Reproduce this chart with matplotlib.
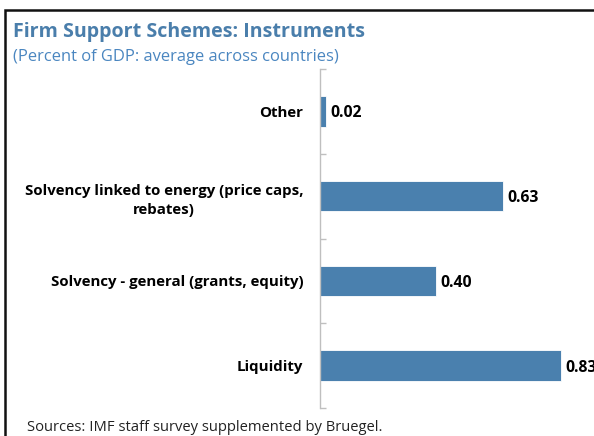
import matplotlib.pyplot as plt
from matplotlib.patches import Rectangle

plt.rcParams['font.family'] = ['Open Sans', 'DejaVu Sans']

# datos del grafico (de abajo hacia arriba)
categorias = ['Liquidity', 'Solvency - general (grants, equity)',
              'Solvency linked to energy (price caps,\nrebates)', 'Other']
valores = [0.83, 0.40, 0.63, 0.02]

azul = '#4A80AE'
gris = '#BFBFBF'

fig = plt.figure(figsize=(5.94, 4.36), dpi=100)
ax = fig.add_axes([320/594, 1 - 408/436, 261/594, (408 - 69)/436])

pos = list(range(len(categorias)))
ax.barh(pos, valores, height=0.36, color=azul, edgecolor='white', linewidth=0.6)

ax.set_xlim(0, 0.9)
ax.set_ylim(-0.5, len(categorias) - 0.5)

# etiquetas de valores al final de cada barra (la ultima queda cortada como en el original)
for y, v in zip(pos, valores):
    ax.annotate(f"{v:.2f}", (v, y), xytext=(3.5, -1.5), textcoords='offset points',
                ha='left', va='center', fontsize=11.3, fontweight='bold',
                annotation_clip=False)

ax.set_yticks(pos)
ax.set_yticklabels(categorias, fontsize=10.8, fontweight='bold', ha='right',
                   multialignment='center', linespacing=1.45)
ax.tick_params(axis='y', which='major', length=0, pad=12)
ax.set_yticks([p - 0.5 for p in pos] + [len(categorias) - 0.5], minor=True)
ax.tick_params(axis='y', which='minor', direction='in', length=4, color=gris, width=1)
ax.set_xticks([])

for s in ['top', 'right', 'bottom']:
    ax.spines[s].set_visible(False)
ax.spines['left'].set_color(gris)
ax.spines['left'].set_linewidth(1)

# titulos y fuente
fig.text(13/594, 1 - 32/436, 'Firm Support Schemes: Instruments', fontsize=14.1,
         fontweight='bold', color='#4A7EAB', ha='left', va='center')
fig.text(13/594, 1 - 57/436, '(Percent of GDP: average across countries)', fontsize=11.9,
         color='#4A86C0', ha='left', va='center')
fig.text(27/594, 1 - 427/436, 'Sources: IMF staff survey supplemented by Bruegel.',
         fontsize=10.6, color='#222222', ha='left', va='center')

# marco del grafico
fig.patches.append(Rectangle((5/594, -0.1), 1.2, 1 - 10/436 + 0.1,
                             transform=fig.transFigure, fill=False,
                             edgecolor='#111111', linewidth=1.8))

plt.savefig('out.png', dpi=100)
plt.close()
